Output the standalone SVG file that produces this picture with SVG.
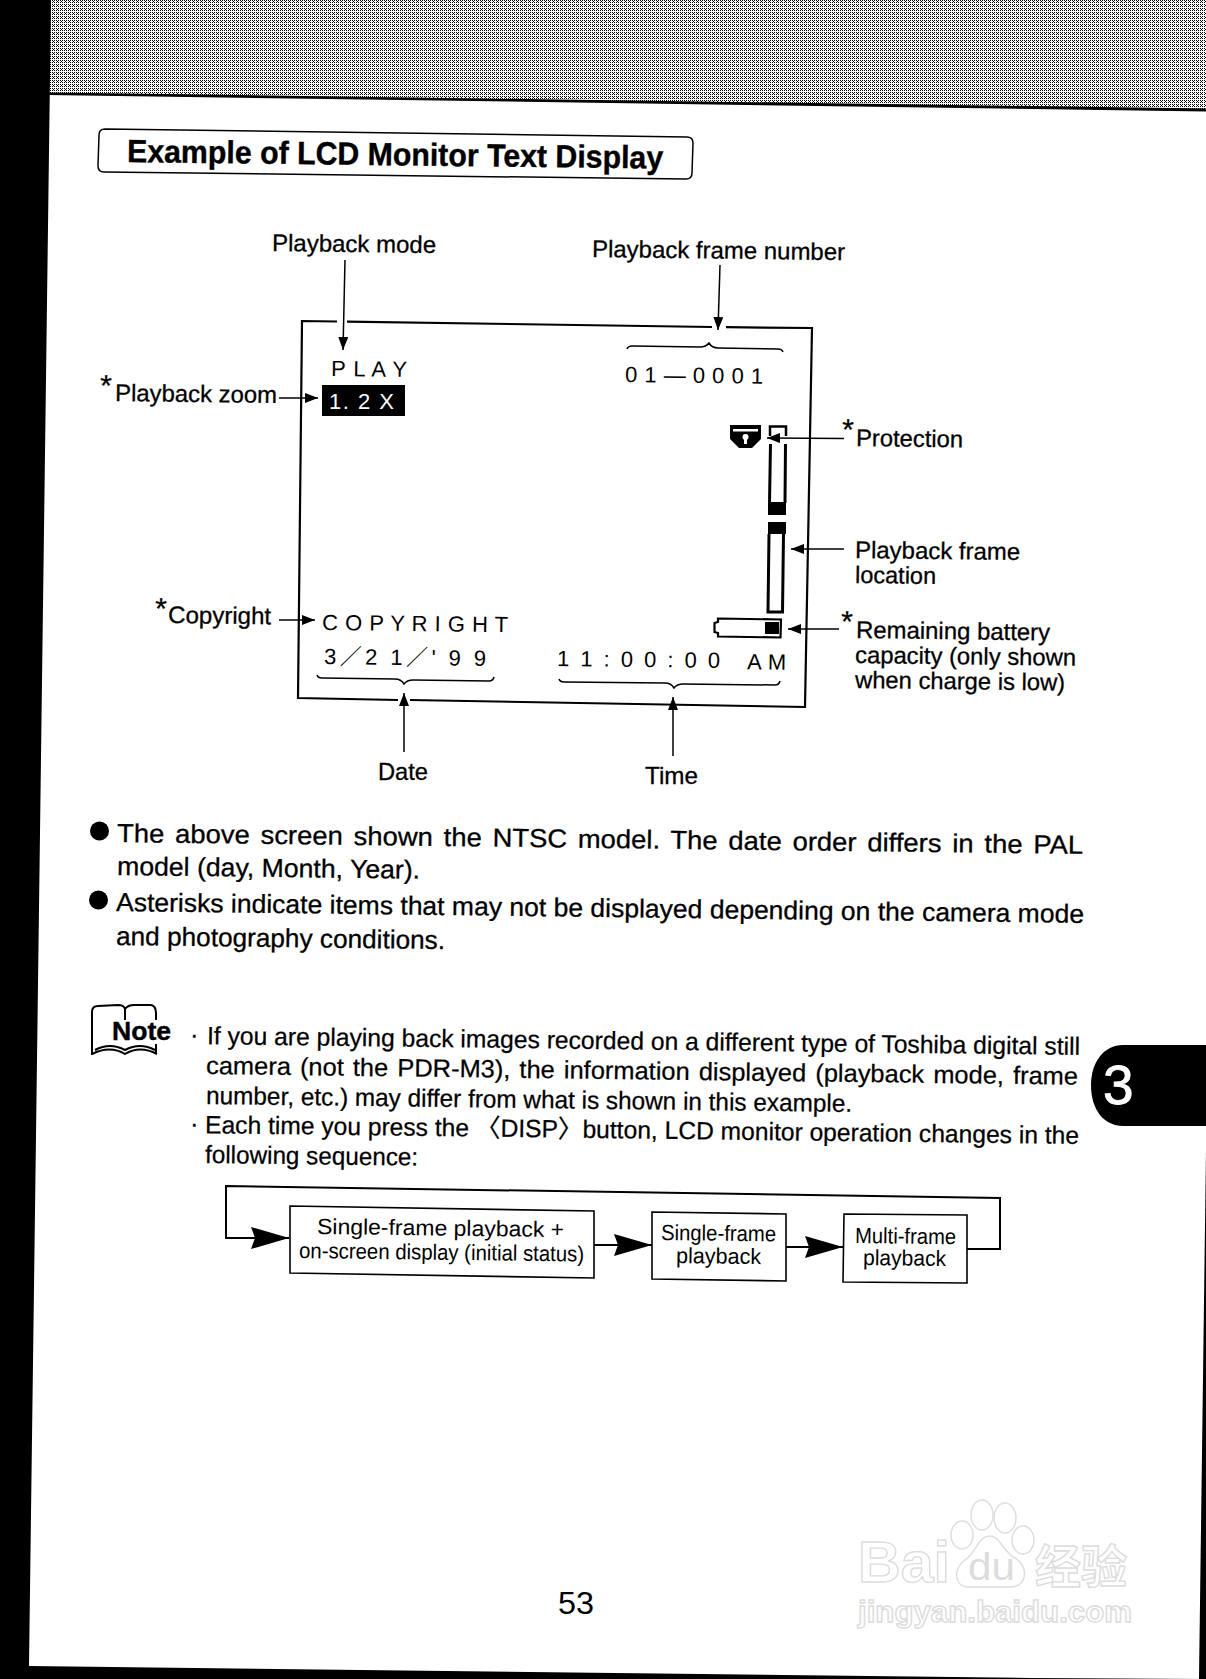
<svg xmlns="http://www.w3.org/2000/svg" width="1206" height="1679" viewBox="0 0 1206 1679">
<style>
text{font-family:"Liberation Sans","Noto Sans CJK SC",sans-serif;fill:#000}
.l{font-size:24px;stroke:#000;stroke-width:.3}
.p{font-size:26px;stroke:#000;stroke-width:.3}
.n{font-size:25px;stroke:#000;stroke-width:.25}
.d{font-size:22px}
.f{font-size:22px}
.a{font-size:30px}
.line{fill:none;stroke:#000;stroke-width:1.5}
.frame{fill:none;stroke:#000;stroke-width:2.2}
.box{fill:#fff;stroke:#000;stroke-width:1.6}
.wm{font-weight:700;fill:#fff;stroke:#dcdcdc;stroke-width:1.4}
</style>
<defs>
<pattern id="ht" width="4" height="4" patternUnits="userSpaceOnUse">
<rect width="4" height="4" fill="#fff"/>
<path d="M0 0h1v1H0zM2 0h1v1H2zM1 1h1v1H1zM0 2h1v1H0zM2 2h1v1H2z" fill="#000"/>
</pattern>
<marker id="s" viewBox="0 0 13 10" refX="13" refY="5" markerWidth="13" markerHeight="10" markerUnits="userSpaceOnUse" orient="auto"><path d="M0 0L13 5L0 10Z" fill="#000"/></marker>
<marker id="b" viewBox="0 0 38 22" refX="38" refY="11" markerWidth="38" markerHeight="22" markerUnits="userSpaceOnUse" orient="auto"><path d="M0 0L38 11L0 22L4 11Z" fill="#000"/></marker>
</defs>
<rect width="1206" height="1679" fill="#fff"/>
<g id="page">
<path d="M48 0H1206V111L48 94Z" fill="url(#ht)"/>
<path d="M48 92.500L1206 108.500V111.500L48 95Z" fill="#000"/>
<path d="M0 0H51L29 1666L1030 1678L1206 1679H0Z" fill="#000"/>
<path d="M1206 1150L1199 1679H1206Z" fill="#000"/>
<path id="tab" d="M1206 1045H1123C1104 1045 1091 1062 1091 1085C1091 1110 1104 1126 1123 1126H1206Z" fill="#000"/>
<text x="1103" y="1104" style="font-size:55px;fill:#fff;stroke:#fff;stroke-width:.8">3</text>
<text x="558" y="1614" style="font-size:31px" textLength="36" lengthAdjust="spacingAndGlyphs">53</text>
</g>
<g id="title">
<path class="line" d="M105 129L687 137Q693 137 693 143L692 173Q692 179 686 179L104 172Q98 172 98 166L99 135Q99 129 105 129Z"/>
<text x="127" y="162" transform="rotate(.7 127 162)" style="font-size:32px;font-weight:700;stroke:#000;stroke-width:.4" textLength="536" lengthAdjust="spacingAndGlyphs">Example of LCD Monitor Text Display</text>
</g>
<g id="monitor">
<path class="frame" d="M337 321.500L302 321L298 698L398 700"/>
<path class="frame" d="M347 321.600L712 327"/>
<path class="frame" d="M726 327.200L812 328L805 707L410 700"/>
<text class="d" x="331" y="376" textLength="76" transform="rotate(.7 331 376)">P L A Y</text>
<rect x="322" y="385" width="83" height="31" fill="#000"/>
<text class="d" x="329" y="409" style="fill:#fff" textLength="65">1. 2 X</text>
<text class="d" x="625" y="382" textLength="138" transform="rotate(.7 625 382)">0 1 — 0 0 0 1</text>
<path class="line" d="M627 349Q628 346 632 346L700 347Q706 347 709 343Q712 348 718 348L778 349Q782 349 783 352"/>
<text class="d" x="322" y="630" textLength="186" transform="rotate(.7 322 630)">C O P Y R I G H T</text>
<text class="d" x="324" y="664" textLength="162" transform="rotate(.7 324 664)">3／2 1／' 9 9</text>
<text class="d" transform="rotate(.7 558 666)"><tspan x="557" y="666" textLength="163">1 1 : 0 0 : 0 0</tspan><tspan x="747" y="667" textLength="39">A M</tspan></text>
<path class="line" d="M317 675Q318 678 322 678L395 679Q401 679 404 684Q407 680 413 680L489 681Q493 681 494 677"/>
<path class="line" d="M559 679Q560 682 564 682L665 683Q671 683 674 688Q677 684 683 684L775 685Q779 685 780 681"/>
</g>
<g id="icons">
<path id="protect-icon" d="M730 425H761V439L752 448H739L730 439Z" fill="#000"/>
<rect x="733" y="429" width="25" height="2.500" fill="#fff"/>
<circle cx="745.500" cy="437" r="3" fill="#fff"/>
<rect x="744" y="437" width="3" height="7" fill="#fff"/>
<g id="frame-location-bar">
<path d="M770 436V426.500H786V436" fill="none" stroke="#000" stroke-width="2.500"/>
<path d="M770.500 444L769.500 503M785.500 444L785 503" fill="none" stroke="#000" stroke-width="3"/>
<rect x="768" y="502" width="18" height="13" fill="#000"/>
<rect x="768" y="522" width="18" height="12" fill="#000"/>
<path d="M769 534L768 612H782.500L783.500 534" fill="none" stroke="#000" stroke-width="3"/>
</g>
<g id="battery">
<path d="M718 618.500L781 619.500L780.500 637.500L718 636.500V633L714.500 632V623L718 622Z" fill="none" stroke="#000" stroke-width="2.200"/>
<rect x="765" y="622" width="14" height="12" fill="#000"/>
</g>
</g>
<g id="connectors">
<path class="line" d="M345 260L343 350" marker-end="url(#s)"/>
<path class="line" d="M720 265L718 330" marker-end="url(#s)"/>
<path class="line" d="M279 398H318" marker-end="url(#s)"/>
<path class="line" d="M279 620H315" marker-end="url(#s)"/>
<path class="line" d="M844 438.500L767 438" marker-end="url(#s)"/>
<path class="line" d="M844 549H791" marker-end="url(#s)"/>
<path class="line" d="M839 629H788" marker-end="url(#s)"/>
<path class="line" d="M404 752V693" marker-end="url(#s)"/>
<path class="line" d="M673 756V697" marker-end="url(#s)"/>
<path d="M966 1249H1000V1198L226 1186V1238H289" fill="none" stroke="#000" stroke-width="2" marker-end="url(#b)"/>
<path d="M594 1245H652" fill="none" stroke="#000" stroke-width="2" marker-end="url(#b)"/>
<path d="M786 1247H843" fill="none" stroke="#000" stroke-width="2" marker-end="url(#b)"/>
</g>
<g id="label-playback-mode"><text class="l" x="272" y="251" textLength="164" lengthAdjust="spacingAndGlyphs" transform="rotate(.7 272 251)">Playback mode</text></g>
<g id="label-frame-number"><text class="l" x="592" y="257" textLength="253" lengthAdjust="spacingAndGlyphs" transform="rotate(.7 592 257)">Playback frame number</text></g>
<g id="label-zoom"><text class="l" transform="rotate(.7 115 402)"><tspan class="a" x="100" y="396">*</tspan><tspan x="115" y="401" textLength="162" lengthAdjust="spacingAndGlyphs">Playback zoom</tspan></text></g>
<g id="label-copyright"><text class="l" transform="rotate(.7 168 623)"><tspan class="a" x="155" y="619">*</tspan><tspan x="168" y="623" textLength="103" lengthAdjust="spacingAndGlyphs">Copyright</tspan></text></g>
<g id="label-protection"><text class="l" transform="rotate(.7 856 446)"><tspan class="a" x="842" y="440">*</tspan><tspan x="856" y="446" textLength="107" lengthAdjust="spacingAndGlyphs">Protection</tspan></text></g>
<g id="label-frame-location">
<text class="l" x="855" y="558" textLength="165" lengthAdjust="spacingAndGlyphs" transform="rotate(.7 855 558)">Playback frame</text>
<text class="l" x="855" y="583" textLength="81" lengthAdjust="spacingAndGlyphs" transform="rotate(.7 855 583)">location</text>
</g>
<g id="label-battery">
<text class="l" transform="rotate(.7 856 638)"><tspan class="a" x="841" y="632">*</tspan><tspan x="856" y="638" textLength="194" lengthAdjust="spacingAndGlyphs">Remaining battery</tspan></text>
<text class="l" x="855" y="663" textLength="221" lengthAdjust="spacingAndGlyphs" transform="rotate(.7 855 663)">capacity (only shown</text>
<text class="l" x="855" y="688" textLength="210" lengthAdjust="spacingAndGlyphs" transform="rotate(.7 855 688)">when charge is low)</text>
</g>
<g id="label-date"><text class="l" x="378" y="780" textLength="50" lengthAdjust="spacingAndGlyphs">Date</text></g>
<g id="label-time"><text class="l" x="645" y="784" textLength="53" lengthAdjust="spacingAndGlyphs">Time</text></g>
<g id="notes">
<circle cx="99.500" cy="831" r="9.500" fill="#000"/>
<text class="p" x="117" y="842" textLength="966" style="word-spacing:3px" lengthAdjust="spacingAndGlyphs" transform="rotate(.7 117 842)">The above screen shown the NTSC model. The date order differs in the PAL</text>
<text class="p" x="117" y="875" textLength="303" lengthAdjust="spacingAndGlyphs" transform="rotate(.7 117 875)">model (day, Month, Year).</text>
<circle cx="98.500" cy="900" r="9.500" fill="#000"/>
<text class="p" x="116" y="911" textLength="968" lengthAdjust="spacingAndGlyphs" transform="rotate(.7 116 911)">Asterisks indicate items that may not be displayed depending on the camera mode</text>
<text class="p" x="116" y="945" textLength="329" lengthAdjust="spacingAndGlyphs" transform="rotate(.7 116 945)">and photography conditions.</text>
</g>
<g id="note-icon">
<path d="M92 1055L92 1012Q92 1006 98 1006L118 1005Q124 1005 125 1009Q128 1005 134 1005H151Q156 1006 156 1013V1020M156 1044V1054M125 1009V1020M92 1054Q110 1045 125 1054Q140 1045 157 1054M95 1050Q110 1042 125 1050Q140 1042 155 1050" fill="none" stroke="#000" stroke-width="2"/>
<text x="112" y="1040" style="font-size:25px;font-weight:700;stroke:#000;stroke-width:.4" textLength="59" lengthAdjust="spacingAndGlyphs">Note</text>
</g>
<g id="note-text">
<text class="n" x="190" y="1043" transform="rotate(.7 190 1043)"><tspan>·</tspan><tspan x="207" y="1044" textLength="873" lengthAdjust="spacingAndGlyphs">If you are playing back images recorded on a different type of Toshiba digital still</tspan></text>
<text class="n" x="206" y="1074" textLength="872" style="word-spacing:2px" lengthAdjust="spacingAndGlyphs" transform="rotate(.7 206 1074)">camera (not the PDR-M3), the information displayed (playback mode, frame</text>
<text class="n" x="206" y="1104" textLength="646" lengthAdjust="spacingAndGlyphs" transform="rotate(.7 206 1104)">number, etc.) may differ from what is shown in this example.</text>
<text class="n" x="190" y="1132" transform="rotate(.7 190 1132)"><tspan>·</tspan><tspan x="205" y="1133" textLength="874" lengthAdjust="spacingAndGlyphs">Each time you press the 〈DISP〉button, LCD monitor operation changes in the</tspan></text>
<text class="n" x="205" y="1163" textLength="213" lengthAdjust="spacingAndGlyphs" transform="rotate(.7 205 1163)">following sequence:</text>
</g>
<g id="node-initial">
<path class="box" d="M290 1206L594 1211V1278L290 1273Z"/>
<text class="f" x="317" y="1234" textLength="247" lengthAdjust="spacingAndGlyphs" transform="rotate(.7 317 1234)">Single-frame playback +</text>
<text class="f" x="299" y="1258" textLength="285" lengthAdjust="spacingAndGlyphs" transform="rotate(.7 299 1258)">on-screen display (initial status)</text>
</g>
<g id="node-single">
<path class="box" d="M652 1212L786 1214V1281L652 1279Z"/>
<text class="f" x="661" y="1240" textLength="115" lengthAdjust="spacingAndGlyphs" transform="rotate(.7 661 1240)">Single-frame</text>
<text class="f" x="676" y="1263" textLength="85" lengthAdjust="spacingAndGlyphs" transform="rotate(.7 676 1263)">playback</text>
</g>
<g id="node-multi">
<path class="box" d="M844 1214L967 1215V1283L843 1282Z"/>
<text class="f" x="855" y="1243" textLength="101" lengthAdjust="spacingAndGlyphs" transform="rotate(.7 855 1243)">Multi-frame</text>
<text class="f" x="863" y="1265" textLength="83" lengthAdjust="spacingAndGlyphs" transform="rotate(.7 863 1265)">playback</text>
</g>
<g id="watermark">
<ellipse cx="962" cy="1535" rx="11" ry="14" fill="#fff" stroke="#dedede" stroke-width="1.500"/>
<ellipse cx="982" cy="1515" rx="11" ry="15" fill="#fff" stroke="#dedede" stroke-width="1.500"/>
<ellipse cx="1005" cy="1518" rx="11" ry="15" fill="#fff" stroke="#dedede" stroke-width="1.500"/>
<ellipse cx="1023" cy="1540" rx="11" ry="14" fill="#fff" stroke="#dedede" stroke-width="1.500"/>
<path d="M990 1536C1000 1536 1003 1552 1015 1558C1028 1565 1029 1587 1010 1587H968C955 1587 952 1570 965 1560C977 1552 978 1536 990 1536Z" fill="#fff" stroke="#dedede" stroke-width="1.500"/>
<text class="wm" x="858" y="1582" style="font-size:58px" textLength="92" lengthAdjust="spacingAndGlyphs">Bai</text>
<text x="968" y="1580" style="font-size:38px;fill:#dcdcdc" textLength="47" lengthAdjust="spacingAndGlyphs">du</text>
<text class="wm" x="1035" y="1583" style="font-size:46px" textLength="92">经验</text>
<text class="wm" x="858" y="1622" style="font-size:30px" textLength="274" lengthAdjust="spacingAndGlyphs">jingyan.baidu.com</text>
</g>
</svg>
